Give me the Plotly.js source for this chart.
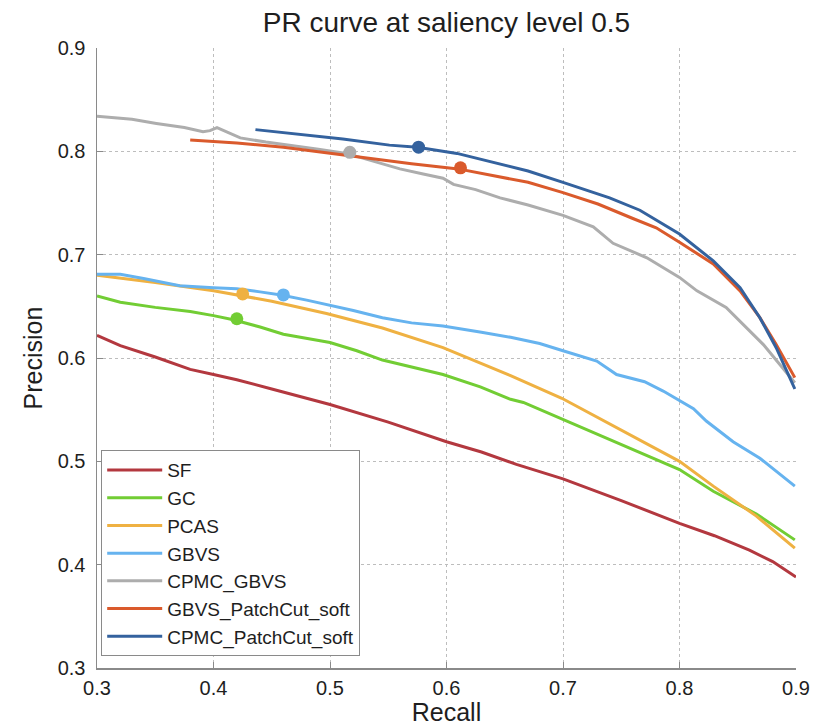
<!DOCTYPE html>
<html>
<head>
<meta charset="utf-8">
<script src="https://cdn.plot.ly/plotly-3.0.1.min.js"></script>
<style>html,body{margin:0;padding:0;background:#fff;}#chart{width:838px;height:726px;}</style>
</head>
<body>
<div id="chart"></div>
<script>
// ---- data ----
const seriesNames = ["SF","GC","PCAS","GBVS","CPMC_GBVS","GBVS_PatchCut_soft","CPMC_PatchCut_soft"];

const sfX = [0.300,0.320,0.350,0.380,0.400,0.420,0.450,0.480,0.500,0.550,0.600,0.630,0.660,0.700,0.750,0.800,0.830,0.860,0.880,0.900];
const sfY = [0.622,0.612,0.601,0.589,0.584,0.579,0.570,0.561,0.555,0.538,0.519,0.509,0.497,0.483,0.462,0.440,0.428,0.414,0.403,0.388];

const gcX = [0.300,0.320,0.350,0.380,0.400,0.417,0.440,0.460,0.500,0.523,0.545,0.570,0.597,0.629,0.655,0.666,0.699,0.749,0.800,0.829,0.866,0.899];
const gcY = [0.660,0.654,0.649,0.645,0.641,0.637,0.630,0.623,0.615,0.607,0.598,0.591,0.584,0.572,0.560,0.557,0.541,0.516,0.492,0.471,0.449,0.424];

const pcasX = [0.300,0.350,0.400,0.421,0.450,0.497,0.545,0.597,0.629,0.655,0.699,0.749,0.800,0.829,0.866,0.899];
const pcasY = [0.680,0.673,0.665,0.661,0.655,0.643,0.629,0.610,0.595,0.583,0.561,0.531,0.500,0.476,0.447,0.416];

const gbvsX = [0.300,0.320,0.340,0.371,0.400,0.420,0.440,0.458,0.480,0.497,0.520,0.545,0.570,0.597,0.609,0.630,0.655,0.680,0.700,0.729,0.746,0.770,0.786,0.812,0.823,0.846,0.869,0.899];
const gbvsY = [0.681,0.681,0.677,0.670,0.668,0.667,0.664,0.661,0.656,0.652,0.646,0.639,0.634,0.631,0.629,0.625,0.620,0.614,0.607,0.597,0.584,0.577,0.568,0.551,0.539,0.519,0.503,0.476];

const cpmcGbvsX = [0.300,0.330,0.351,0.375,0.391,0.397,0.403,0.413,0.423,0.445,0.466,0.490,0.514,0.535,0.560,0.580,0.597,0.606,0.625,0.646,0.670,0.700,0.726,0.743,0.772,0.800,0.815,0.840,0.849,0.872,0.899];
const cpmcGbvsY = [0.834,0.831,0.827,0.823,0.819,0.820,0.823,0.818,0.813,0.809,0.806,0.802,0.798,0.791,0.783,0.778,0.774,0.768,0.763,0.755,0.748,0.738,0.727,0.711,0.697,0.678,0.665,0.649,0.639,0.613,0.576];

const gbvsPcX = [0.380,0.420,0.460,0.494,0.530,0.570,0.610,0.646,0.670,0.700,0.730,0.760,0.780,0.800,0.829,0.852,0.869,0.883,0.899];
const gbvsPcY = [0.811,0.808,0.804,0.799,0.794,0.788,0.783,0.775,0.770,0.760,0.749,0.735,0.726,0.712,0.691,0.665,0.639,0.613,0.581];

const cpmcPcX = [0.436,0.470,0.511,0.551,0.575,0.609,0.637,0.670,0.700,0.740,0.766,0.800,0.829,0.852,0.869,0.883,0.899];
const cpmcPcY = [0.821,0.817,0.812,0.806,0.804,0.798,0.790,0.781,0.770,0.755,0.743,0.720,0.694,0.668,0.639,0.610,0.570];

// operating-point markers
const markerNames = ["GC","PCAS","GBVS","CPMC_GBVS","GBVS_PatchCut_soft","CPMC_PatchCut_soft"];
const markerX = [0.420,0.425,0.460,0.517,0.612,0.576];
const markerY = [0.638,0.662,0.661,0.799,0.784,0.804];

const tickVals = [0.3,0.4,0.5,0.6,0.7,0.8,0.9];
const tickText = ['0.3','0.4','0.5','0.6','0.7','0.8','0.9'];

const colors = {
  "SF":"#b3383f",
  "GC":"#72cd34",
  "PCAS":"#efb142",
  "GBVS":"#66b3ef",
  "CPMC_GBVS":"#adadad",
  "GBVS_PatchCut_soft":"#da5a2c",
  "CPMC_PatchCut_soft":"#34629e"
};

const lineData = [[sfX,sfY],[gcX,gcY],[pcasX,pcasY],[gbvsX,gbvsY],[cpmcGbvsX,cpmcGbvsY],[gbvsPcX,gbvsPcY],[cpmcPcX,cpmcPcY]];

const traces = [];
seriesNames.forEach((n,i)=>{
  traces.push({
    x: lineData[i][0], y: lineData[i][1], name: n, type:'scatter', mode:'lines',
    line:{color:colors[n], width:3}
  });
});
markerNames.forEach((n,i)=>{
  traces.push({
    x:[markerX[i]], y:[markerY[i]], type:'scatter', mode:'markers', showlegend:false,
    marker:{color:colors[n], size:13}
  });
});

const fontFam = '"Liberation Sans", Arial, Helvetica, sans-serif';
const txt = '#1e1e1e';
const axisCommon = {
  showline:true, linecolor:'#8a8a8a', linewidth:1.5,
  ticks:'inside', ticklen:6, tickcolor:'#8a8a8a', tickwidth:1,
  showgrid:true, gridcolor:'#bdbdbd', griddash:'dot', gridwidth:1,
  zeroline:false,
  tickfont:{family:fontFam, size:20, color:txt}
};

const layout = {
  width:838, height:726,
  margin:{l:97, r:42, t:48, b:58},
  paper_bgcolor:'#fff', plot_bgcolor:'#fff',
  font:{family:fontFam, color:txt},
  title:{text:'PR curve at saliency level 0.5', font:{family:fontFam, size:28, color:txt}, x:0.5, xanchor:'center', y:0.97, yanchor:'middle', xref:'paper'},
  xaxis:Object.assign({}, axisCommon, {
    range:[0.3,0.9], tickvals:tickVals, ticktext:tickText,
    ticklabelstandoff:1,
    title:{text:'Recall', font:{family:fontFam, size:25, color:txt}, standoff:2}
  }),
  yaxis:Object.assign({}, axisCommon, {
    range:[0.3,0.9], tickvals:tickVals, ticktext:tickText,
    ticklabelstandoff:6,
    title:{text:'Precision', font:{family:fontFam, size:25, color:txt}, standoff:8}
  }),
  legend:{
    x:0.006, y:0.019, xanchor:'left', yanchor:'bottom',
    bgcolor:'#fff', bordercolor:'#8a8a8a', borderwidth:1,
    font:{family:fontFam, size:19, color:txt},
    itemwidth:55,
    tracegroupgap:0
  },
  showlegend:true
};

Plotly.newPlot('chart', traces, layout, {displayModeBar:false, staticPlot:true});
</script>
</body>
</html>
